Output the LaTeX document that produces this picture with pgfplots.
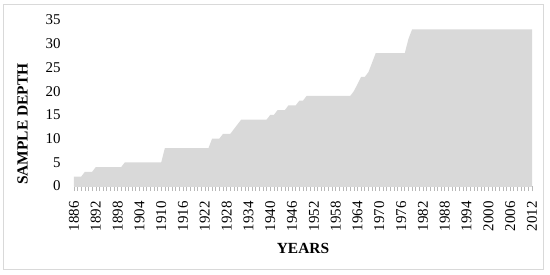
\documentclass[border=0pt]{standalone}
\usepackage{fontspec}
\setmainfont{Liberation Serif}
\usepackage{pgfplots}
\pgfplotsset{compat=1.18}
\definecolor{areagray}{HTML}{D9D9D9}
\definecolor{framegray}{HTML}{D9D9D9}

\begin{document}
\begin{tikzpicture}
  % page = 550 x 275 bp, axis box lower-left at (0,0)
  \useasboundingbox (-74bp,-89bp) rectangle (476bp,186bp);
  \draw[framegray, line width=0.8bp] (-71bp,-83bp) rectangle (469bp,182bp);
  \begin{axis}[
    scale only axis,
    width=458bp, height=166bp,
    xmin=1886, xmax=2012,
    ymin=0, ymax=35,
    axis lines*=left,
    x axis line style={draw=areagray},
    y axis line style={draw=none},
    tick align=outside,
    xtick={1886,1892,...,2012},
    minor xtick={1886,...,2012},
    major tick length=5bp,
    minor tick length=5bp,
    xtick style={draw=areagray!85!black, line width=0.6bp},
    ytick={0,5,...,35},
    ytick style={draw=none},
    /pgf/number format/assume math mode=true,
    /pgf/number format/1000 sep={},
    tick label style={font=\fontsize{15}{17}\selectfont},
    xticklabel style={rotate=90, anchor=east},
    xticklabel shift=7bp,
    yticklabel style={anchor=east, xshift=-5bp},
    xlabel={\textbf{YEARS}},
    ylabel={\textbf{SAMPLE DEPTH}},
    label style={font=\fontsize{15.5}{17}\selectfont},
    xlabel style={at={(axis description cs:0.5,-0.375)}, anchor=center},
    ylabel style={at={(axis description cs:-0.112,0.373)}, anchor=center, rotate=0},
  ]
    \addplot[fill=areagray, draw=none] coordinates {
      (1886,2) (1888,2) (1889,3) (1891,3) (1892,4) (1899,4) (1900,5)
      (1910,5) (1911,8) (1923,8) (1924,10) (1926,10) (1927,11) (1929,11)
      (1930,12) (1931,13) (1932,14) (1939,14) (1940,15) (1941,15) (1942,16)
      (1944,16) (1945,17) (1947,17) (1948,18) (1949,18) (1950,19) (1962,19)
      (1963,20) (1964,21.5) (1965,23) (1966,23) (1967,24) (1968,26) (1969,28)
      (1977,28) (1978,31) (1979,33) (2012,33)
    } \closedcycle;
  \end{axis}
\end{tikzpicture}
\end{document}
